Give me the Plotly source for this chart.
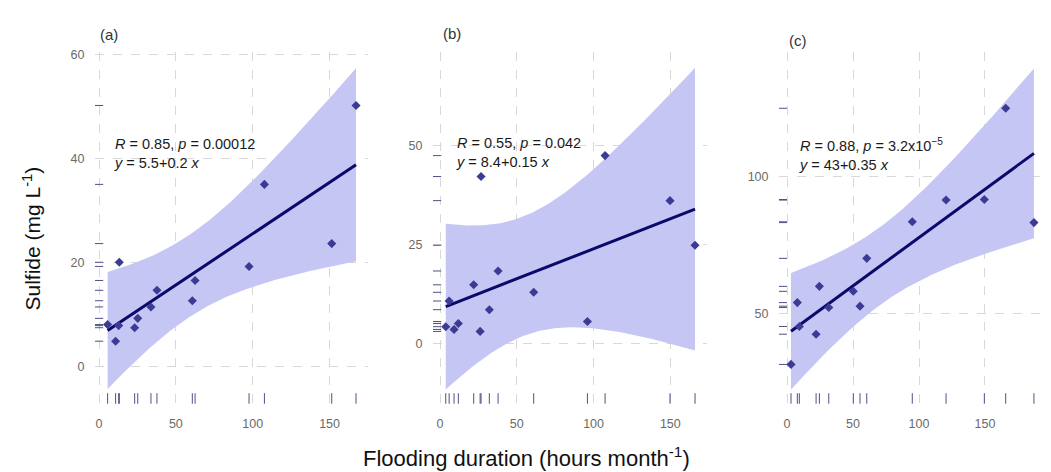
import numpy as np
import plotly.graph_objects as go

# ---------------- data ----------------
panel_labels = ["(a)", "(b)", "(c)"]

flood_a = [5.6, 10.8, 12.8, 13.2, 23.2, 25.2, 33.8, 37.7, 60.7, 62.5, 97.6, 107.6, 151.4, 167.2]
sulfide_a = [8.0, 4.8, 7.8, 20.0, 7.4, 9.2, 11.4, 14.6, 12.6, 16.5, 19.2, 35.0, 23.6, 50.2]

flood_b = [3.7, 5.9, 9.1, 11.9, 21.9, 26.1, 26.7, 32.1, 37.8, 61.0, 96.0, 107.5, 149.8, 166.1]
sulfide_b = [4.2, 10.7, 3.5, 5.0, 14.8, 3.0, 42.2, 8.5, 18.3, 12.9, 5.5, 47.5, 36.1, 24.8]

flood_c = [3.0, 7.8, 9.3, 22.0, 24.5, 31.6, 50.2, 55.3, 60.4, 94.9, 120.5, 149.5, 165.7, 187.1]
sulfide_c = [31.6, 54.1, 45.4, 42.6, 60.0, 52.3, 58.2, 52.8, 70.2, 83.5, 91.4, 91.6, 124.8, 83.2]

stats_line1 = ["<i>R</i> = 0.85, <i>p</i> = 0.00012",
               "<i>R</i> = 0.55, <i>p</i> = 0.042",
               "<i>R</i> = 0.88, <i>p</i> = 3.2x10<sup>\u22125</sup>"]
stats_line2 = ["<i>y</i> = 5.5+0.2 <i>x</i>",
               "<i>y</i> = 8.4+0.15 <i>x</i>",
               "<i>y</i> = 43+0.35 <i>x</i>"]

x_ticks = [0, 50, 100, 150]
y_ticks_a = [0, 20, 40, 60]
y_ticks_b = [0, 25, 50]
y_ticks_c = [50, 100]

# t critical value for the (wide, 99.9 %) confidence band, df = n - 2 = 12
T_CRIT = 4.318

# ---------------- styling ----------------
FONT = "Liberation Sans, Arial, sans-serif"
BAND = "#C6C6F5"
LINE = "#0A0A6B"
POINT = "#3B3B95"
RUG = "#4F4F85"
GRID = "#D8D8D8"
TICKFONT = dict(family=FONT, size=12.5, color="#6A6A6A")

x_domains = [[0.0904, 0.3506], [0.4120, 0.6727], [0.7412, 0.9952]]
y_domain = [0.1462, 0.8983]
x_ranges = [[-2.6, 175.3], [-4.6, 173.9], [-6.1, 196.2]]
y_ranges = [[-7.24, 60.4], [-15.3, 73.6], [17.3, 145.1]]

panels = [(flood_a, sulfide_a, y_ticks_a),
          (flood_b, sulfide_b, y_ticks_b),
          (flood_c, sulfide_c, y_ticks_c)]


def fit_band(x, y, xs, t):
    x = np.asarray(x, float)
    y = np.asarray(y, float)
    n = len(x)
    b1, b0 = np.polyfit(x, y, 1)
    res = y - (b0 + b1 * x)
    s = np.sqrt((res ** 2).sum() / (n - 2))
    sxx = ((x - x.mean()) ** 2).sum()
    se = s * np.sqrt(1.0 / n + (xs - x.mean()) ** 2 / sxx)
    fit = b0 + b1 * xs
    return fit, fit - t * se, fit + t * se


fig = go.Figure()
shapes = []
annotations = []

for i, (fx, sy, yt) in enumerate(panels):
    sfx = "" if i == 0 else str(i + 1)
    xa, ya = "x" + sfx, "y" + sfx
    xs = np.linspace(min(fx), max(fx), 120)
    fit, lo, hi = fit_band(fx, sy, xs, T_CRIT)

    fig.add_trace(go.Scatter(
        x=np.concatenate([xs, xs[::-1]]), y=np.concatenate([hi, lo[::-1]]),
        fill="toself", fillcolor=BAND, line=dict(width=0), mode="lines",
        hoverinfo="skip", showlegend=False, xaxis=xa, yaxis=ya))
    fig.add_trace(go.Scatter(
        x=xs, y=fit, mode="lines", line=dict(color=LINE, width=3),
        showlegend=False, xaxis=xa, yaxis=ya))
    fig.add_trace(go.Scatter(
        x=fx, y=sy, mode="markers",
        marker=dict(symbol="diamond", size=7, color=POINT),
        showlegend=False, xaxis=xa, yaxis=ya))

    # rugs
    for v in fx:
        shapes.append(dict(type="line", xref=xa, yref=ya + " domain",
                           x0=v, x1=v, y0=0, y1=0.03,
                           line=dict(color=RUG, width=1)))
    for v in sy:
        shapes.append(dict(type="line", xref=xa + " domain", yref=ya,
                           x0=0, x1=0.03, y0=v, y1=v,
                           line=dict(color=RUG, width=1)))

    axis_common = dict(showgrid=True, gridcolor=GRID, griddash="dash", gridwidth=1,
                       zeroline=False, showline=False, ticks="outside",
                       tickcolor="rgba(0,0,0,0)", tickfont=TICKFONT)
    fig.update_layout({
        "xaxis" + sfx: dict(domain=x_domains[i], range=x_ranges[i], anchor=ya,
                            tickvals=x_ticks, ticklen=8, **axis_common),
        "yaxis" + sfx: dict(domain=y_domain, range=y_ranges[i], anchor=xa,
                            tickvals=yt, ticklen=7, **axis_common),
    })

# panel letters
letter_pos = [(0.0935, 0.937), (0.4200, 0.940), (0.7490, 0.925)]
for lab, (px, py) in zip(panel_labels, letter_pos):
    annotations.append(dict(text=lab, xref="paper", yref="paper", x=px, y=py,
                            xanchor="left", yanchor="middle", showarrow=False,
                            font=dict(family=FONT, size=15, color="#333333")))

# statistics text (two lines per panel, one text block)
stat_x = [0.1065, 0.4320, 0.7583]
stat_y = [0.683, 0.684, 0.680]
for i in range(3):
    annotations.append(dict(text=stats_line1[i] + "<br>" + stats_line2[i],
                            xref="paper", yref="paper", align="left",
                            x=stat_x[i], y=stat_y[i], xanchor="left", yanchor="middle",
                            showarrow=False,
                            font=dict(family=FONT, size=14.5, color="#1a1a1a")))

# axis titles
annotations.append(dict(text="Flooding duration (hours month<sup>-1</sup>)",
                        xref="paper", yref="paper", x=0.5005, y=0.032,
                        xanchor="center", yanchor="middle", showarrow=False,
                        font=dict(family=FONT, size=22, color="#111111")))
annotations.append(dict(text="Sulfide (mg L<sup>-1</sup>)",
                        xref="paper", yref="paper", x=0.0295, y=0.50,
                        xanchor="center", yanchor="middle", showarrow=False,
                        textangle=-90,
                        font=dict(family=FONT, size=21, color="#111111")))

fig.update_layout(
    width=1051, height=472,
    margin=dict(l=0, r=0, t=0, b=0),
    paper_bgcolor="white", plot_bgcolor="white",
    shapes=shapes, annotations=annotations,
    showlegend=False,
)

fig.write_html("out.html")
